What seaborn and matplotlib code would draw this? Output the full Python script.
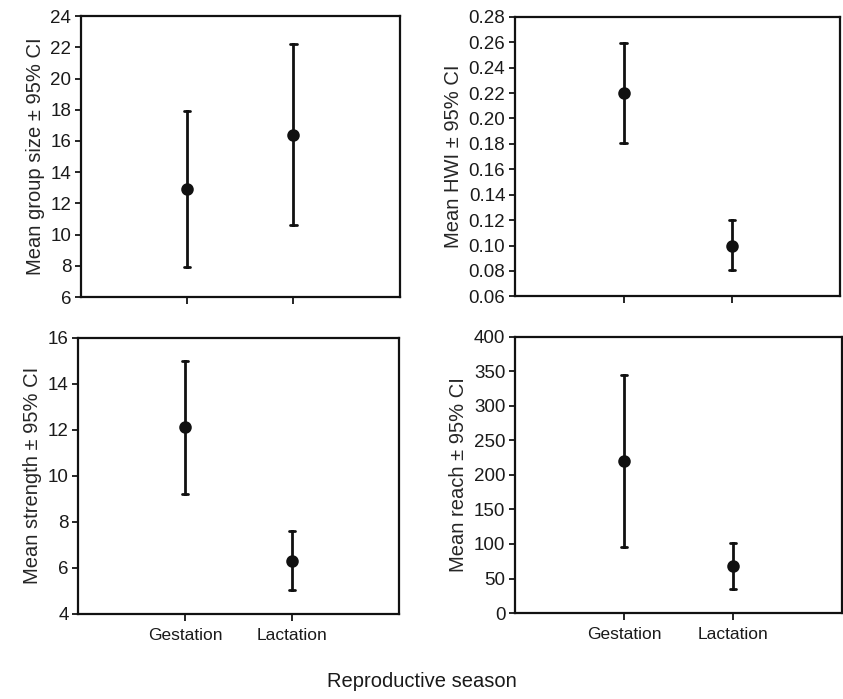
import pandas as pd
import matplotlib
matplotlib.use("Agg")
import matplotlib.pyplot as plt
import seaborn as sns

# Values (mean, lower CI, upper CI)
seasons = ["Gestation", "Lactation"]

group_mean = [12.9, 16.4]
group_lo = [7.9, 10.6]
group_hi = [17.9, 22.2]

hwi_mean = [0.22, 0.10]
hwi_lo = [0.181, 0.081]
hwi_hi = [0.259, 0.120]

strength_mean = [12.1, 6.3]
strength_lo = [9.2, 5.05]
strength_hi = [15.0, 7.6]

reach_mean = [220, 68]
reach_lo = [95, 35]
reach_hi = [345, 101]

sns.set_style("white")
plt.rcParams["font.family"] = ["Liberation Sans", "DejaVu Sans"]


def long_table(mean, lo, hi):
    # three rows per season: lower, mean, upper -> median gives mean, min/max give CI
    rows = []
    for s, m, l, h in zip(seasons, mean, lo, hi):
        for v in (l, m, h):
            rows.append({"Season": s, "Value": v})
    return pd.DataFrame(rows)


panels = [
    (group_mean, group_lo, group_hi, "Mean group size \u00b1 95% CI", (6, 24), 2, "{:.0f}",
     [0.096, 0.575, 0.378, 0.402]),
    (hwi_mean, hwi_lo, hwi_hi, "Mean HWI \u00b1 95% CI", (0.06, 0.28), 0.02, "{:.2f}",
     [0.611, 0.576, 0.386, 0.400]),
    (strength_mean, strength_lo, strength_hi, "Mean strength \u00b1 95% CI", (4, 16), 2, "{:.0f}",
     [0.093, 0.122, 0.380, 0.395]),
    (reach_mean, reach_lo, reach_hi, "Mean reach \u00b1 95% CI", (0, 400), 50, "{:.0f}",
     [0.611, 0.123, 0.388, 0.395]),
]

fig = plt.figure(figsize=(8.43, 6.99), dpi=100)

for i, (m, lo, hi, ylab, ylim, step, fmt, pos) in enumerate(panels):
    ax = fig.add_axes(pos)
    df = long_table(m, lo, hi)
    sns.pointplot(data=df, x="Season", y="Value", order=seasons,
                  estimator="median", errorbar=lambda v: (v.min(), v.max()),
                  color="#111111", linestyle="none", markers="o",
                  markersize=7, err_kws={"linewidth": 2}, capsize=0.06, ax=ax)
    ax.set_xlim(-1, 2)
    ax.set_ylim(*ylim)
    n = int(round((ylim[1] - ylim[0]) / step))
    ticks = [ylim[0] + k * step for k in range(n + 1)]
    ax.set_yticks(ticks)
    ax.set_yticklabels([fmt.format(t) for t in ticks])
    ax.set_ylabel(ylab, fontsize=14.5, labelpad=4)
    ax.set_xlabel("")
    for sp in ax.spines.values():
        sp.set_visible(True)
        sp.set_linewidth(1.6)
        sp.set_color("#111111")
    ax.tick_params(axis="y", direction="out", length=4, width=1.4, labelsize=13.5, left=True, pad=3,
                   labelcolor="#1a1a1a")
    ax.tick_params(axis="x", direction="out", length=5, width=1.4, labelsize=12.5, bottom=True, pad=5,
                   labelcolor="#1a1a1a")
    if i < 2:
        ax.set_xticklabels([])

fig.text(0.5, 0.012, "Reproductive season", ha="center", va="bottom", fontsize=14.5, color="#1a1a1a")

fig.savefig("out.png", dpi=100)
